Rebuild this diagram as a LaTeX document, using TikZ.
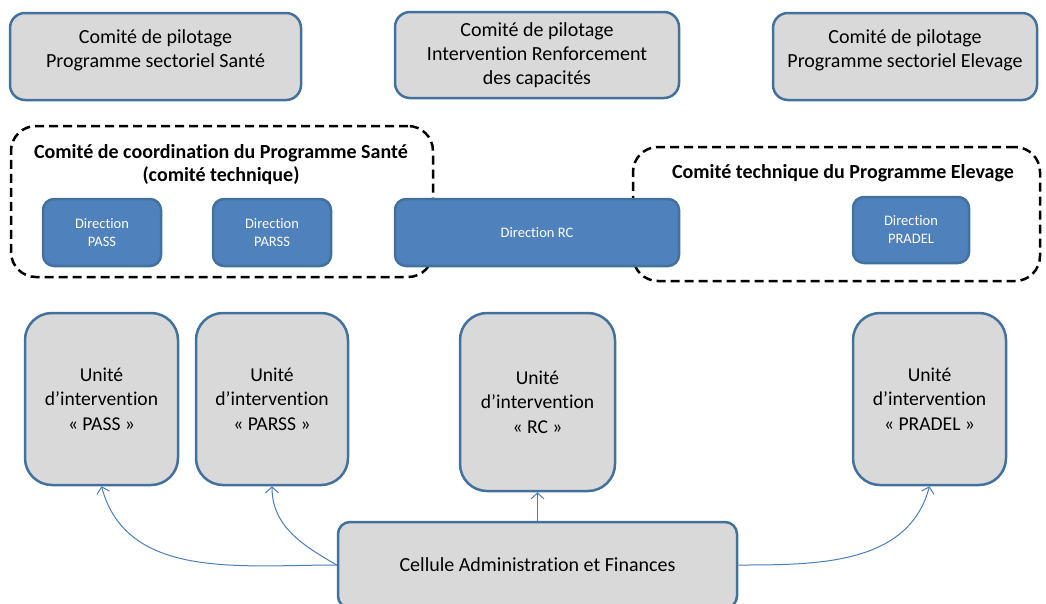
\documentclass[tikz,border=0pt]{standalone}
\usepackage{fontspec}
\setmainfont{Carlito}[Ligatures=NoCommon]
\usepackage{tikz}
\usetikzlibrary{arrows.meta}

\definecolor{bordblue}{HTML}{41719C}
\definecolor{fillgray}{HTML}{D9D9D9}
\definecolor{fillblue}{HTML}{4F81BD}
\definecolor{arrblue}{HTML}{4A7EBB}

\begin{document}
\begin{tikzpicture}[x=1pt, y=-1pt,
  graybox/.style={draw=bordblue, fill=fillgray, line width=2.5pt, rounded corners=15pt, align=center, font=\fontsize{20}{24}\selectfont},
  unitbox/.style={graybox, rounded corners=27pt, minimum width=153pt, minimum height=172pt, font=\fontsize{19.6}{24.5}\selectfont},
  dirbox/.style={draw=bordblue, fill=fillblue, line width=2.5pt, rounded corners=11pt, align=center, text=white, font=\fontsize{14.5}{18}\selectfont, minimum height=67pt},
  dashbox/.style={draw=black, line width=2.5pt, dash pattern=on 9pt off 5pt, rounded corners=25pt},
  titlebox/.style={align=center, font=\bfseries\fontsize{20}{23}\selectfont},
  link/.style={->, arrblue, line width=1pt},
  >={Straight Barb[length=6pt,width=13pt]}]
\useasboundingbox (0,0) rectangle (1046,603);

% comites de pilotage
\node [graybox, minimum width=291pt, minimum height=87pt] (pilSante) at (155.5, 56.5) {Comité de pilotage\\Programme sectoriel Santé\\[-9pt]\mbox{}};
\node [graybox, minimum width=284pt, minimum height=86pt] (pilRC) at (537, 55) {Comité de pilotage\\Intervention Renforcement\\des capacités};
\node [graybox, minimum width=264pt, minimum height=87pt] (pilElev) at (905, 56.5) {Comité de pilotage\\Programme sectoriel Elevage\\[-9pt]\mbox{}};

% comites techniques
\node [dashbox, minimum width=422pt, minimum height=151pt] (coSante) at (222, 201.5) {};
\node [titlebox] (tSante) at (221, 165) {Comité de coordination du Programme Santé\\(comité technique)};
\node [dashbox, minimum width=407pt, minimum height=134pt] (coElev) at (836.5, 214) {};
\node [titlebox] (tElev) at (843, 173) {Comité technique du Programme Elevage};

% directions
\node [dirbox, minimum width=118pt] (dirPASS) at (102, 232.5) {Direction\\PASS};
\node [dirbox, minimum width=118pt] (dirPARSS) at (272, 232.5) {Direction\\PARSS};
\node [dirbox, minimum width=284pt] (dirRC) at (537, 232.5) {Direction RC};
\node [dirbox, minimum width=116pt, minimum height=66pt] (dirPRADEL) at (911, 230) {Direction\\PRADEL};

% unites d'intervention
\node [unitbox] (uPASS) at (101.5, 399) {Unité\\d’intervention\\« PASS »};
\node [unitbox, minimum width=152pt] (uPARSS) at (272, 399) {Unité\\d’intervention\\« PARSS »};
\node [unitbox, minimum width=155pt, minimum height=178pt] (uRC) at (537.5, 402) {Unité\\d’intervention\\« RC »};
\node [unitbox] (uPRADEL) at (929.5, 399) {Unité\\d’intervention\\« PRADEL »};

\node [graybox, rounded corners=12pt, minimum width=399pt, minimum height=86pt] (caf) at (537.5, 565) {Cellule Administration et Finances};

\draw [link] (caf.west) to[out=180, in=-75] (uPASS.south);
\draw [link] (caf.west) to[out=150, in=-90] (uPARSS.south);
\draw [link] (caf.north) -- (uRC.south);
\draw [link] (caf.east) to[out=0, in=-105] (uPRADEL.south);
\end{tikzpicture}
\end{document}
